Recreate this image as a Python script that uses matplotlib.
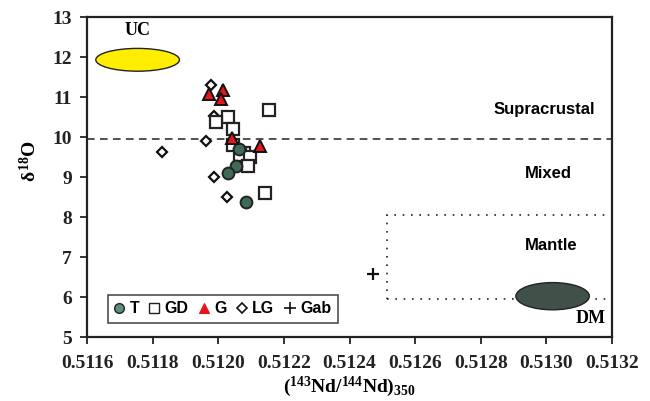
import matplotlib
matplotlib.use("Agg")
import matplotlib.pyplot as plt
from matplotlib.patches import Ellipse, Rectangle
from matplotlib.lines import Line2D

plt.rcParams["mathtext.fontset"] = "custom"
plt.rcParams["mathtext.rm"] = "Liberation Serif:bold"
plt.rcParams["mathtext.bf"] = "Liberation Serif:bold"
plt.rcParams["mathtext.it"] = "Liberation Serif:bold"

# Sample groups: (143Nd/144Nd)350 and delta 18O
t_nd = [0.512063, 0.512054, 0.512031, 0.512084]
t_o = [9.69, 9.28, 9.09, 8.38]

gd_nd = [0.512156, 0.512031, 0.511992, 0.512044, 0.512046, 0.512077,
         0.512065, 0.512097, 0.512089, 0.512141]
gd_o = [10.68, 10.51, 10.38, 10.19, 9.80, 9.61, 9.55, 9.51, 9.28, 8.59]

g_nd = [0.511973, 0.512015, 0.512009, 0.512041, 0.512126]
g_o = [11.07, 11.17, 10.94, 9.97, 9.78]

lg_nd = [0.511977, 0.511986, 0.511962, 0.511986, 0.512025, 0.511829]
lg_o = [11.30, 10.52, 9.90, 8.99, 8.49, 9.62]

gab_nd = [0.512473]
gab_o = [6.58]

# Reference reservoirs
uc_center, uc_size = (0.511754, 11.93), (0.000255, 0.57)
dm_center, dm_size = (0.513019, 6.02), (0.000224, 0.68)
mantle_box = (0.512513, 5.95, 0.5132 - 0.512513, 8.05 - 5.95)
supra_limit = 9.96

xticks = [0.5116, 0.5118, 0.5120, 0.5122, 0.5124, 0.5126, 0.5128, 0.5130, 0.5132]
yticks = [5, 6, 7, 8, 9, 10, 11, 12, 13]

fig = plt.figure(figsize=(6.5, 4.01), dpi=100)
ax = fig.add_axes([0.134, 0.1596, 0.8075, 0.798])

ax.set_xlim(0.5116, 0.5132)
ax.set_ylim(5, 13)

ax.add_patch(Ellipse(uc_center, uc_size[0], uc_size[1], facecolor="#ffee00",
                     edgecolor="#222222", linewidth=1.0, zorder=2))
ax.add_patch(Ellipse(dm_center, dm_size[0], dm_size[1], facecolor="#3f5148",
                     edgecolor="#222222", linewidth=1.0, zorder=2))
ax.add_patch(Rectangle(mantle_box[:2], mantle_box[2], mantle_box[3], fill=False,
                       edgecolor="#222222", linewidth=1.2, linestyle=(0, (1, 4)),
                       zorder=1))
ax.axhline(supra_limit, color="#222222", linewidth=1.1, linestyle=(0, (5, 3.5)), zorder=1)

ax.plot(lg_nd, lg_o, linestyle="none", marker="D", markersize=5.5,
        markerfacecolor="white", markeredgecolor="#111111", markeredgewidth=1.6,
        zorder=3, label="LG")
ax.plot(gd_nd, gd_o, linestyle="none", marker="s", markersize=8,
        markerfacecolor="white", markeredgecolor="#222222", markeredgewidth=1.6,
        zorder=4, label="GD")
ax.plot(t_nd, t_o, linestyle="none", marker="o", markersize=8.5,
        markerfacecolor="#3d6b55", markeredgecolor="#222222", markeredgewidth=1.4,
        zorder=5, label="T")
ax.plot(g_nd, g_o, linestyle="none", marker="^", markersize=8.5,
        markerfacecolor="#e8141c", markeredgecolor="#111111", markeredgewidth=1.4,
        zorder=6, label="G")
ax.plot(gab_nd, gab_o, linestyle="none", marker="+", markersize=9,
        markeredgecolor="#111111", markeredgewidth=1.6, zorder=6, label="Gab")

serif_bold = dict(family="Liberation Serif", fontweight="bold")
sans_bold = dict(family="Liberation Sans", fontweight="bold")
ax.text(uc_center[0], 12.66, "UC", ha="center", va="center", fontsize=13, **serif_bold)
ax.text(0.513135, 5.47, "DM", ha="center", va="center", fontsize=13, **serif_bold)
ax.text(0.512993, 10.70, "Supracrustal", ha="center", va="center", fontsize=12, **sans_bold)
ax.text(0.513005, 9.10, "Mixed", ha="center", va="center", fontsize=12, **sans_bold)
ax.text(0.513016, 7.28, "Mantle", ha="center", va="center", fontsize=12, **sans_bold)

handles = [
    Line2D([], [], linestyle="none", marker="o", markersize=7, markerfacecolor="#5a8f82",
           markeredgecolor="#222222", markeredgewidth=1.0),
    Line2D([], [], linestyle="none", marker="s", markersize=6.5, markerfacecolor="white",
           markeredgecolor="#222222", markeredgewidth=1.0),
    Line2D([], [], linestyle="none", marker="^", markersize=7, markerfacecolor="#e8141c",
           markeredgecolor="#e8141c", markeredgewidth=0.8),
    Line2D([], [], linestyle="none", marker="D", markersize=5, markerfacecolor="white",
           markeredgecolor="#111111", markeredgewidth=1.2),
    Line2D([], [], linestyle="none", marker="+", markersize=8, markeredgecolor="#111111",
           markeredgewidth=1.2),
]
leg = ax.legend(handles, ["T", "GD", "G", "LG", "Gab"], ncol=5, loc="lower left",
                bbox_to_anchor=(0.040, 0.045), frameon=True, fancybox=False,
                handlelength=0.6, handletextpad=0.35, columnspacing=0.65,
                borderpad=0.4, borderaxespad=0.0,
                prop={"family": "Liberation Sans", "weight": "bold", "size": 11.5})
leg.get_frame().set_edgecolor("#222222")
leg.get_frame().set_linewidth(1.2)

ax.set_xticks(xticks)
ax.set_xticklabels([f"{v:.4f}" for v in xticks])
ax.set_yticks(yticks)
ax.set_yticklabels([str(v) for v in yticks])
for lbl in ax.get_xticklabels() + ax.get_yticklabels():
    lbl.set_fontfamily("Liberation Serif")
    lbl.set_fontweight("bold")
    lbl.set_fontsize(14)
ax.tick_params(direction="out", length=5, width=1.3, colors="#222222")
ax.tick_params(axis="x", pad=8)
ax.tick_params(axis="y", pad=6)
for s in ax.spines.values():
    s.set_linewidth(1.6)
    s.set_color("#222222")

ax.set_xlabel(r"$(^{143}$Nd$/^{144}$Nd$)_{350}$", fontsize=14, labelpad=2, **serif_bold)
ax.set_ylabel(r"$\delta^{18}$O", fontsize=14, **serif_bold)
ax.yaxis.set_label_coords(-0.09, 0.55)

fig.savefig("out.png", dpi=100)
